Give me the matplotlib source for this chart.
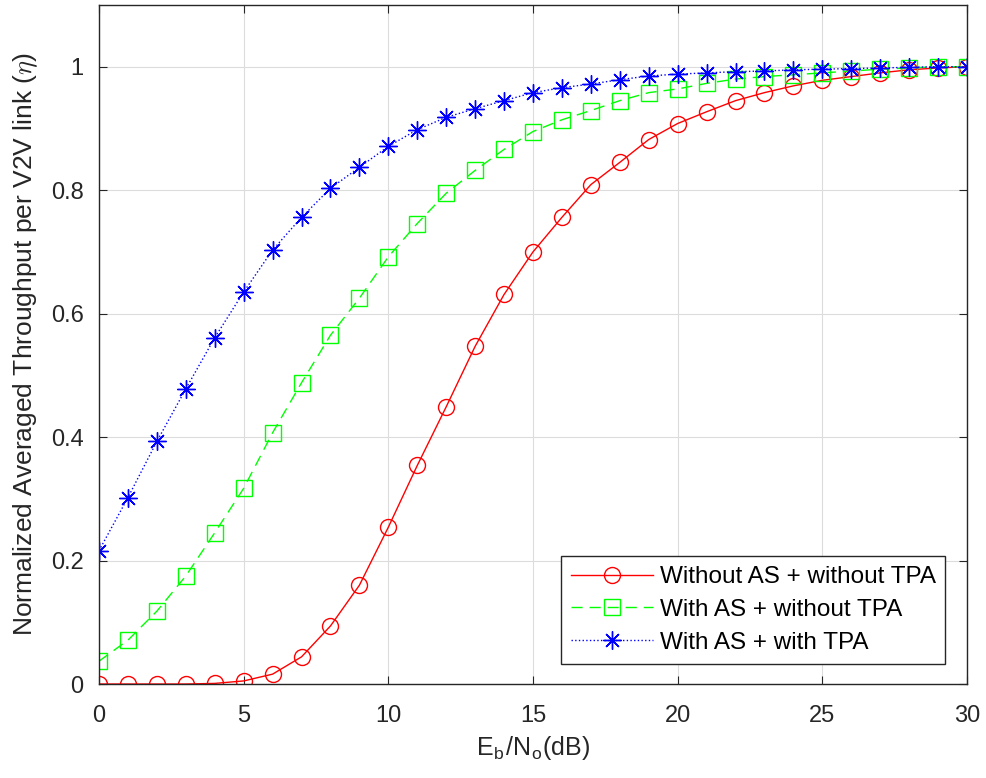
import matplotlib
matplotlib.use("Agg")
import matplotlib.pyplot as plt
import numpy as np

plt.rcParams["font.family"] = ["Liberation Sans", "DejaVu Sans"]
plt.rcParams["mathtext.fontset"] = "cm"

# Eb/No in dB
snr_db = list(range(0, 31))

# Without AS + without TPA
no_as_no_tpa = [0.000, 0.000, 0.000, 0.000, 0.001, 0.005, 0.016, 0.044, 0.094, 0.160,
                0.254, 0.354, 0.449, 0.547, 0.631, 0.700, 0.756, 0.809, 0.845, 0.882,
                0.908, 0.927, 0.945, 0.958, 0.969, 0.978, 0.984, 0.990, 0.995, 0.998, 1.000]

# With AS + without TPA
as_no_tpa = [0.037, 0.071, 0.118, 0.175, 0.245, 0.317, 0.407, 0.488, 0.565, 0.625,
             0.692, 0.746, 0.795, 0.832, 0.866, 0.895, 0.914, 0.929, 0.945, 0.958,
             0.964, 0.973, 0.980, 0.984, 0.987, 0.990, 0.993, 0.996, 0.998, 1.000, 1.000]

# With AS + with TPA
as_tpa = [0.216, 0.302, 0.393, 0.478, 0.561, 0.635, 0.703, 0.756, 0.803, 0.837,
          0.871, 0.898, 0.918, 0.932, 0.945, 0.958, 0.966, 0.972, 0.979, 0.985,
          0.988, 0.990, 0.992, 0.993, 0.995, 0.996, 0.997, 0.998, 0.999, 1.000, 1.000]

fig = plt.figure(figsize=(9.86, 7.78), dpi=100)
ax = fig.add_axes([0.1004, 0.1208, 0.8803, 0.8728])

ax.plot(snr_db, no_as_no_tpa, color="#ff0000", linestyle="-", linewidth=1.0,
        marker="o", markersize=11.5, markerfacecolor="none", markeredgewidth=1.0,
        label="Without AS + without TPA")
ax.plot(snr_db, as_no_tpa, color="#00ff00", linestyle=(0, (8, 5)), linewidth=1.0,
        marker="s", markersize=11, markerfacecolor="none", markeredgewidth=1.0,
        label="With AS + without TPA")
# MATLAB '*' marker: plus and cross together
ax.plot(snr_db, as_tpa, color="#0000ff", linestyle=":", linewidth=1.0,
        marker=(8, 2, 0), markersize=13, markeredgewidth=1.0,
        label="With AS + with TPA")

ax.set_xlim(0, 30)
ax.set_ylim(0, 1.1)
ax.set_xticks([0, 5, 10, 15, 20, 25, 30])
ax.set_yticks([0, 0.2, 0.4, 0.6, 0.8, 1])
ax.set_yticklabels(["0", "0.2", "0.4", "0.6", "0.8", "1"])
ax.tick_params(direction="in", length=6, labelsize=17, colors="#262626",
               top=True, right=True)
ax.tick_params(axis="x", pad=15)
ax.tick_params(axis="y", pad=11)
ax.grid(True, color="#dcdcdc", linewidth=0.8)
ax.set_axisbelow(True)
for s in ax.spines.values():
    s.set_color("#262626")
    s.set_linewidth(1.0)

ax.set_xlabel(r"E$_\mathregular{b}$/N$_\mathregular{o}$(dB)", fontsize=18, color="#262626",
              labelpad=5)
ax.set_ylabel(r"Normalized Averaged Throughput per V2V link ($\eta$)", fontsize=19,
              color="#262626", labelpad=8)

leg = ax.legend(loc="lower right", bbox_to_anchor=(0.975, 0.03), fontsize=17.5,
                handlelength=3.4, handletextpad=0.25, numpoints=1, fancybox=False,
                framealpha=1, edgecolor="#262626", borderpad=0.4, labelspacing=0.45,
                borderaxespad=0)
leg.get_frame().set_linewidth(1.0)

fig.savefig("out.png", dpi=100)
